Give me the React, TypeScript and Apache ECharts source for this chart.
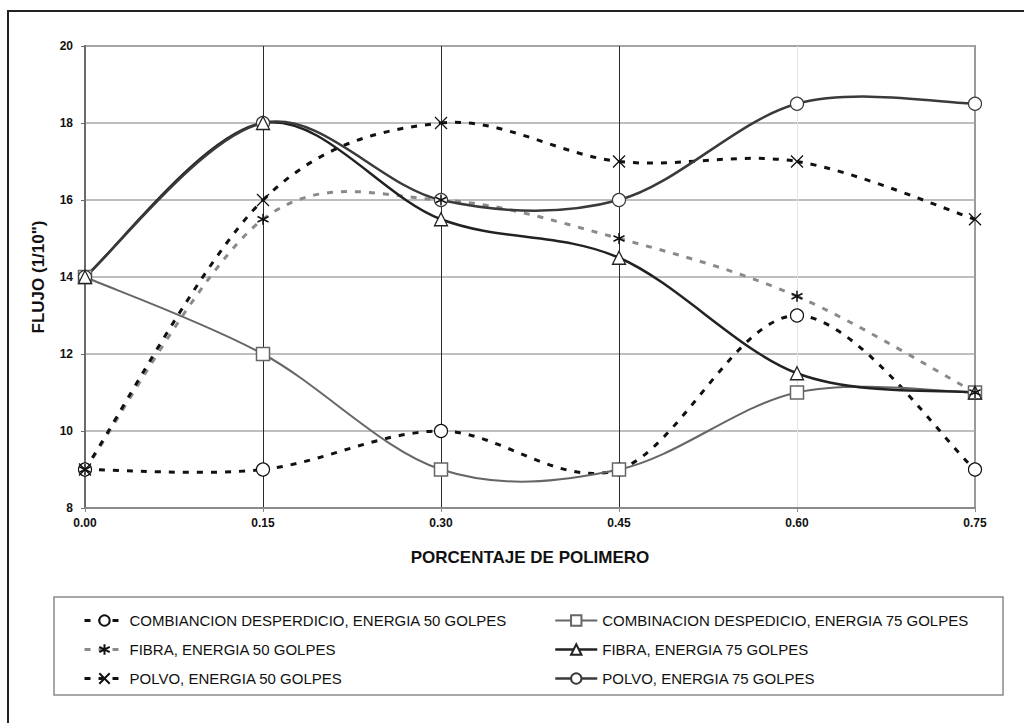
import React, { useEffect, useRef } from "react";
import * as echarts from "echarts";

const xValues = [0.0, 0.15, 0.3, 0.45, 0.6, 0.75];
const yTicks = [8, 10, 12, 14, 16, 18, 20];

const seriesNames = [
  "COMBIANCION DESPERDICIO, ENERGIA 50 GOLPES",
  "FIBRA, ENERGIA 50 GOLPES",
  "POLVO, ENERGIA 50 GOLPES",
  "COMBINACION DESPEDICIO, ENERGIA 75 GOLPES",
  "FIBRA, ENERGIA 75 GOLPES",
  "POLVO, ENERGIA 75 GOLPES",
];

const comb50 = [9, 9, 10, 9, 13, 9];
const fibra50 = [9, 15.5, 16, 15, 13.5, 11];
const polvo50 = [9, 16, 18, 17, 17, 15.5];
const comb75 = [14, 12, 9, 9, 11, 11];
const fibra75 = [14, 18, 15.5, 14.5, 11.5, 11];
const polvo75 = [14, 18, 16, 16, 18.5, 18.5];

const FONT = "'Liberation Sans', Arial, sans-serif";
const ASTERISK = "path://M5,0 L5,10 M0.7,2.5 L9.3,7.5 M0.7,7.5 L9.3,2.5";
const CROSS = "path://M0,0 L10,10 M10,0 L0,10";

function pairs(vals: number[]) {
  return xValues.map((x, i) => [x, vals[i]]);
}

export default function App() {
  const ref = useRef<HTMLDivElement>(null);
  useEffect(() => {
    if (!ref.current) return;
    const chart = echarts.init(ref.current, undefined, { renderer: "svg" });
    const dashed = [6, 8];

    type Cfg = {
      name: string;
      vals: number[];
      color: string;
      dash: any;
      width: number;
      symbol: string;
      size: number;
      symColor: string;
      fill: string;
      bw: number;
      z: number;
    };

    const cfgs: Cfg[] = [
      { name: seriesNames[0], vals: comb50, color: "#111", dash: dashed, width: 3, symbol: "circle", size: 13, symColor: "#111", fill: "#fff", bw: 1.2, z: 3 },
      { name: seriesNames[1], vals: fibra50, color: "#8a8a8a", dash: dashed, width: 3, symbol: ASTERISK, size: 11, symColor: "#111", fill: "#111", bw: 1.5, z: 6 },
      { name: seriesNames[2], vals: polvo50, color: "#111", dash: dashed, width: 3, symbol: CROSS, size: 12, symColor: "#111", fill: "#111", bw: 1.3, z: 5 },
      { name: seriesNames[3], vals: comb75, color: "#666", dash: "solid", width: 2, symbol: "rect", size: 13, symColor: "#666", fill: "#fff", bw: 1.5, z: 3 },
      { name: seriesNames[4], vals: fibra75, color: "#222", dash: "solid", width: 2.5, symbol: "triangle", size: 13, symColor: "#222", fill: "#fff", bw: 1.3, z: 5 },
      { name: seriesNames[5], vals: polvo75, color: "#3a3a3a", dash: "solid", width: 2.5, symbol: "circle", size: 13, symColor: "#3a3a3a", fill: "#fff", bw: 1.2, z: 4 },
    ];

    // Smooth curve (Catmull-Rom style, like spreadsheet smoothing) drawn through the axis scales
    const curveSeries = cfgs.map((c) => ({
      name: c.name + " (curva)",
      type: "custom",
      z: 2,
      silent: true,
      clip: false,
      data: pairs(c.vals).slice(0, -1),
      encode: { x: 0, y: 1 },
      renderItem: (params: any, api: any) => {
        const i = params.dataIndex;
        const n = xValues.length;
        const P = (k: number) => {
          const kk = Math.max(0, Math.min(n - 1, k));
          return api.coord([xValues[kk], c.vals[kk]]);
        };
        const p0 = P(i - 1);
        const p1 = P(i);
        const p2 = P(i + 1);
        const p3 = P(i + 2);
        const t = 1 / 6;
        return {
          type: "bezierCurve",
          shape: {
            x1: p1[0],
            y1: p1[1],
            x2: p2[0],
            y2: p2[1],
            cpx1: p1[0] + (p2[0] - p0[0]) * t,
            cpy1: p1[1] + (p2[1] - p0[1]) * t,
            cpx2: p2[0] - (p3[0] - p1[0]) * t,
            cpy2: p2[1] - (p3[1] - p1[1]) * t,
          },
          style: {
            fill: "none",
            stroke: c.color,
            lineWidth: c.width,
            lineDash: c.dash === "solid" ? null : c.dash,
            lineCap: "butt",
          },
        };
      },
    }));

    const markerSeries = cfgs.map((c) => ({
      name: c.name,
      type: "line",
      data: pairs(c.vals),
      symbol: c.symbol,
      symbolSize: c.size,
      showAllSymbol: true,
      lineStyle: { color: c.color, width: c.width, type: c.dash, opacity: 0 },
      itemStyle: { color: c.fill, borderColor: c.symColor, borderWidth: c.bw },
      emphasis: { disabled: true },
      z: c.z,
    }));

    const legendItem = (c: Cfg) => ({
      name: c.name,
      lineStyle: { color: c.color, width: c.width, type: c.dash, opacity: 1, cap: "butt" },
    });

    const option: any = {
      animation: false,
      backgroundColor: "#ffffff",
      textStyle: { fontFamily: FONT },
      grid: {
        left: 85,
        right: 49,
        top: 46,
        bottom: 215,
        show: true,
        borderColor: "#9a9a9a",
        borderWidth: 2,
        backgroundColor: "transparent",
      },
      xAxis: {
        type: "value",
        min: 0,
        max: 0.75,
        interval: 0.15,
        name: "PORCENTAJE DE POLIMERO",
        nameLocation: "middle",
        nameGap: 41,
        nameTextStyle: { fontFamily: FONT, fontWeight: "bold", fontSize: 17, color: "#111" },
        axisLine: { show: true, lineStyle: { color: "#8a8a8a", width: 2 } },
        axisTick: { show: true, length: 4, lineStyle: { color: "#8a8a8a" } },
        axisLabel: {
          margin: 9,
          fontFamily: FONT,
          fontWeight: "bold",
          fontSize: 12,
          color: "#111",
          formatter: (v: number) => v.toFixed(2),
        },
        splitLine: {
          show: true,
          lineStyle: {
            color: ["#444", "#2a2a2a", "#2a2a2a", "#2a2a2a", "#e4e4e4", "#9a9a9a"],
            width: 1,
          },
        },
      },
      yAxis: {
        type: "value",
        min: yTicks[0],
        max: yTicks[yTicks.length - 1],
        interval: 2,
        name: 'FLUJO (1/10")',
        nameLocation: "middle",
        nameGap: 38,
        nameTextStyle: { fontFamily: FONT, fontWeight: "bold", fontSize: 17, color: "#111" },
        axisLine: { show: true, lineStyle: { color: "#6a6a6a", width: 2 } },
        axisTick: { show: true, length: 4, lineStyle: { color: "#6a6a6a" } },
        axisLabel: { margin: 12, fontFamily: FONT, fontWeight: "bold", fontSize: 12, color: "#111" },
        splitLine: { show: true, lineStyle: { color: "#a8a8a8", width: 1.5 } },
      },
      legend: [
        {
          data: cfgs.slice(0, 3).map(legendItem),
          orient: "vertical",
          left: 78,
          top: 608,
          itemWidth: 40,
          itemHeight: 13,
          itemGap: 14,
          textStyle: { fontFamily: FONT, fontSize: 15, color: "#111" },
          selectedMode: false,
        },
        {
          data: cfgs.slice(3).map(legendItem),
          orient: "vertical",
          left: 549,
          top: 608,
          itemWidth: 42,
          itemHeight: 13,
          itemGap: 14,
          textStyle: { fontFamily: FONT, fontSize: 15, color: "#111" },
          selectedMode: false,
        },
      ],
      graphic: [
        {
          type: "rect",
          shape: { x: 8, y: 11, width: 1100, height: 800 },
          style: { fill: "none", stroke: "#222", lineWidth: 2 },
          silent: true,
        },
        {
          type: "rect",
          shape: { x: 54, y: 597, width: 949, height: 98 },
          style: { fill: "none", stroke: "#8a8a8a", lineWidth: 1.5 },
          silent: true,
        },
      ],
      series: [...curveSeries, ...markerSeries],
    };
    chart.setOption(option);
    return () => chart.dispose();
  }, []);
  return (
    <div
      ref={ref}
      style={{ position: "fixed", left: 0, top: 0, width: 1024, height: 723, background: "#fff" }}
    />
  );
}
